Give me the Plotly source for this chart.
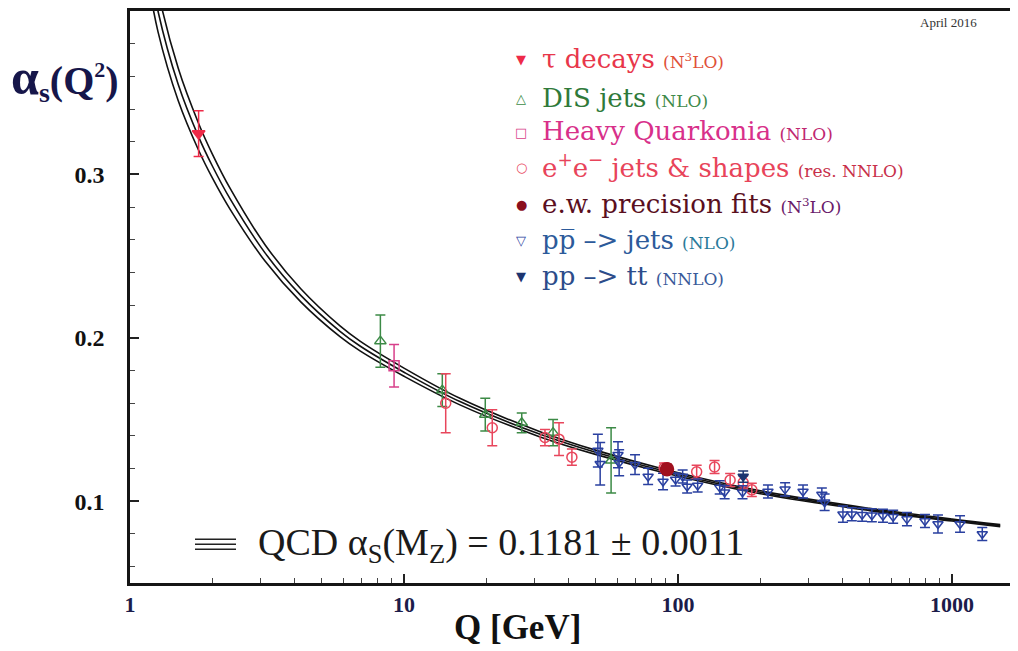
import plotly.graph_objects as go

# ---------------- data ----------------
qcd_q = [1.15, 1.265, 1.5, 1.78, 2.0, 2.32, 3.11, 4.2, 5.84, 6.91, 10, 16, 31.4, 50, 91.2, 200, 500, 1000, 1500]
qcd_central = [0.44, 0.40, 0.355, 0.323, 0.305, 0.285, 0.252, 0.226, 0.204, 0.195, 0.179, 0.161, 0.141, 0.130, 0.1181, 0.1055, 0.095, 0.0885, 0.0851]
qcd_upper = [0.4553, 0.4126, 0.3649, 0.3312, 0.3123, 0.2914, 0.2570, 0.2300, 0.2073, 0.1980, 0.1815, 0.1630, 0.1426, 0.1313, 0.1192, 0.1064, 0.0957, 0.0891, 0.0857]
qcd_lower = [0.4247, 0.3874, 0.3451, 0.3148, 0.2977, 0.2786, 0.2470, 0.2220, 0.2007, 0.1920, 0.1765, 0.1590, 0.1394, 0.1287, 0.1170, 0.1046, 0.0943, 0.0879, 0.0845]

tau_q = [1.78]
tau_a = [0.325]
tau_err = [0.014]

dis_q = [8.2, 13.8, 19.8, 26.9, 35.0, 57.0]
dis_a = [0.198, 0.168, 0.153, 0.148, 0.142, 0.125]
dis_err = [0.016, 0.010, 0.010, 0.006, 0.008, 0.020]

hq_q = [9.2]
hq_a = [0.183]
hq_err = [0.013]

ee_q = [14.2, 21.0, 32.7, 36.8, 41.0, 89.0, 117, 136, 155, 173, 186]
ee_a = [0.160, 0.145, 0.139, 0.138, 0.127, 0.1205, 0.118, 0.121, 0.113, 0.1115, 0.107]
ee_err = [0.018, 0.011, 0.005, 0.010, 0.005, 0.003, 0.004, 0.004, 0.004, 0.004, 0.004]

ew_q = [91.2]
ew_a = [0.1196]
ew_err = [0.003]

ppbar_q = [51, 52, 60.4, 61, 69.7, 77.8, 88.2, 98, 104, 108, 118, 142, 148, 172, 213, 246, 286, 335, 343,
           400, 431, 470, 510, 560, 610, 685, 797, 889, 1070, 1290]
ppbar_a = [0.131, 0.123, 0.1285, 0.1236, 0.1224, 0.1152, 0.1121, 0.1133, 0.1152, 0.109, 0.1097, 0.1085, 0.1055,
           0.1055, 0.106, 0.1073, 0.106, 0.1042, 0.0994, 0.0921, 0.0921, 0.0918, 0.0915, 0.0912, 0.0905, 0.0891,
           0.0879, 0.0861, 0.0861, 0.080]
ppbar_err = [0.010, 0.013, 0.008, 0.008, 0.006, 0.005, 0.005, 0.004, 0.004, 0.004, 0.004, 0.004, 0.004, 0.004,
             0.004, 0.004, 0.004, 0.004, 0.005, 0.005, 0.004, 0.004, 0.004, 0.004, 0.004, 0.004, 0.004, 0.0055,
             0.005, 0.004]

tt_q = [173]
tt_a = [0.1151]
tt_err = [0.0035]

x_tickvals = [1, 10, 100, 1000]
x_ticktext = ["1", "10", "100", "1000"]
y_tickvals = [0.1, 0.2, 0.3]
y_ticktext = ["0.1", "0.2", "0.3"]

# ---------------- figure ----------------
OFF = 8                      # page body margin of the html page
W, H = 1018 - OFF, 651 - OFF
L, R, T, B = 130 - OFF, 0, 8 - OFF, 68
PW, PH = W - L - R, H - T - B


def px(x):
    return (x - OFF - L) / PW


def py(y):
    return (H - B - (y - OFF)) / PH


fig = go.Figure()

for band in (qcd_upper, qcd_central, qcd_lower):
    fig.add_trace(go.Scatter(x=qcd_q, y=band, mode="lines", line=dict(color="#111111", width=1.6, shape="spline"),
                             hoverinfo="skip"))


def pts(q, a, err, symbol, color, size=10, lw=1.5, ecolor=None):
    fig.add_trace(go.Scatter(
        x=q, y=a, mode="markers",
        marker=dict(symbol=symbol, size=size, color=color, line=dict(color=color, width=lw)),
        error_y=dict(type="data", array=err, color=ecolor or color, thickness=1.5, width=5),
    ))


pts(dis_q, dis_a, dis_err, "triangle-up-open", "#3c8a46")
pts(hq_q, hq_a, hq_err, "square-open", "#d8408a")
pts(ee_q, ee_a, ee_err, "circle-open", "#e8465c")
pts(ppbar_q, ppbar_a, ppbar_err, "triangle-down-open", "#2a40a0", size=9)
pts(tt_q, tt_a, tt_err, "triangle-down", "#1c3570", size=9)
pts(ew_q, ew_a, ew_err, "circle", "#a0101e", size=13)
pts(tau_q, tau_a, tau_err, "triangle-down", "#ee2a48", size=11)

serif = "Liberation Serif"

fig.update_layout(
    width=W, height=H,
    margin=dict(l=L, r=R, t=T, b=B),
    paper_bgcolor="white", plot_bgcolor="white",
    showlegend=False,
    xaxis=dict(
        type="log", range=[0, 3.241],
        tickvals=x_tickvals, ticktext=x_ticktext,
        ticks="inside", ticklen=9, tickwidth=1.5, tickcolor="#222",
        minor=dict(tickvals=[2, 3, 4, 5, 6, 7, 8, 9, 20, 30, 40, 50, 60, 70, 80, 90,
                             200, 300, 400, 500, 600, 700, 800, 900],
                   ticks="inside", ticklen=5, tickwidth=1, tickcolor="#444", showgrid=False),
        showline=True, linewidth=2.5, linecolor="#151515", mirror=True,
        showgrid=False, zeroline=False,
        tickfont=dict(family=serif, size=22, color="#1c1c4a", weight="bold"),
        ticklabelstandoff=0,
    ),
    yaxis=dict(
        range=[0.05, 0.4],
        tickvals=y_tickvals, ticktext=y_ticktext,
        ticks="inside", ticklen=9, tickwidth=1.5, tickcolor="#222",
        minor=dict(tickvals=[0.06, 0.08, 0.12, 0.14, 0.16, 0.18, 0.22, 0.24, 0.26, 0.28,
                             0.32, 0.34, 0.36, 0.38],
                   ticks="inside", ticklen=5, tickwidth=1, tickcolor="#444", showgrid=False),
        showline=True, linewidth=2.5, linecolor="#151515", mirror=False,
        showgrid=False, zeroline=False,
        tickfont=dict(family=serif, size=24, color="#111", weight="bold"),
        ticklabelstandoff=18,
    ),
)

ann = []
# y-axis title
ann.append(dict(x=px(9), y=py(76), xref="paper", yref="paper", xanchor="left", yanchor="middle",
                text="<span style='font-size:50px'>α</span><sub>s</sub>(Q<sup><span style='font-size:22px'>2</span></sup>)",
                showarrow=False,
                font=dict(family=serif, size=40, color="#16164a", weight="bold")))
# x-axis title
ann.append(dict(x=px(517), y=py(628), xref="paper", yref="paper", xanchor="center", yanchor="middle",
                text="Q [GeV]", showarrow=False,
                font=dict(family=serif, size=35, color="#111", weight="bold")))
# date
ann.append(dict(x=px(948), y=py(20), xref="paper", yref="paper", xanchor="center", yanchor="middle",
                text="April 2016", showarrow=False,
                font=dict(family=serif, size=13, color="#333")))
# QCD label
ann.append(dict(x=px(256), y=py(545), xref="paper", yref="paper", xanchor="left", yanchor="middle",
                text="QCD α<sub>S</sub>(M<sub>Z</sub>) = 0.1181 ± 0.0011", showarrow=False,
                font=dict(family=serif, size=38, color="#1a1a1a")))

# legend (custom)
leg_font = "DejaVu Serif"
legend_rows = [
    ("▼", "#ee2a48", "τ decays", "#e8364a", "(N<sup>3</sup>LO)", "#e0503a", 56, 13),
    ("△", "#3c8a46", "DIS jets", "#2f7a3a", "(NLO)", "#3f8a4a", 95, 13),
    ("□", "#d8408a", "Heavy Quarkonia", "#d8308a", "(NLO)", "#c02870", 129, 13),
    ("○", "#e8465c", "e<sup>+</sup>e<sup>−</sup> jets &amp; shapes", "#e8445a", "(res. NNLO)", "#c8304a", 164, 13),
    ("●", "#8a0f1e", "e.w. precision fits", "#5a0f1e", "(N<sup>3</sup>LO)", "#6a1a6a", 202, 13),
    ("▽", "#2a40a0", "pp\u0305 –> jets", "#2c5a9a", "(NLO)", "#2a7a9a", 238, 13),
    ("▼", "#1c3570", "pp –> tt", "#2c4c8a", "(NNLO)", "#3a5a9a", 274, 13),
]
for sym, scol, main, mcol, par, pcol, yy, ssz in legend_rows:
    ann.append(dict(x=px(521), y=py(yy + 1), xref="paper", yref="paper", xanchor="center", yanchor="middle",
                    text=sym, showarrow=False, font=dict(family="DejaVu Sans", size=ssz, color=scol)))
    ann.append(dict(x=px(540), y=py(yy), xref="paper", yref="paper", xanchor="left", yanchor="middle",
                    text=f"<span style='color:{mcol};font-size:26px'>{main}</span> "
                         f"<span style='color:{pcol};font-size:17px'>{par}</span>",
                    showarrow=False, font=dict(family=leg_font, size=26, color=mcol)))

fig.update_layout(annotations=ann)

# "≡" symbol of the QCD label
for yy in (539, 544, 549):
    fig.add_shape(type="line", xref="paper", yref="paper", x0=px(195), x1=px(236), y0=py(yy), y1=py(yy),
                  line=dict(color="#222", width=1.5))

fig.write_html("out.html")
